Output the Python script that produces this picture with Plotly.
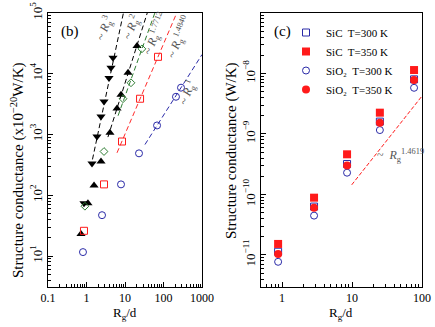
import plotly.graph_objects as go

# ---- panel (b): structure conductance (x1e-20 W/K) vs Rg/d ----
dn_tri_x = [0.86, 1.39, 1.87, 2.38, 2.85, 3.84, 4.33, 4.88]
dn_tri_y = [74, 333, 930, 1970, 3500, 8500, 12600, 18300]

up_tri_x = [0.72, 1.09, 1.57, 2.38, 4.07, 6.2, 7.87, 12.0, 20.5]
up_tri_y = [23, 74, 145, 360, 1070, 2680, 4530, 10400, 28700]

diam_x = [0.91, 2.85, 8.87, 14.3, 27.5]
diam_y = [66, 525, 3880, 7100, 25700]

sq_x = [0.86, 2.85, 8.36, 24.6, 72]
sq_y = [26, 151, 767, 3880, 19000]

circ_x = [0.81, 2.53, 7.87, 23.1, 68, 211, 285]
circ_y = [11.6, 47, 151, 490, 1410, 4180, 5900]

# power-law guide lines: y = A * x^k between x_start and x_end
fit_names = ["3", "2", "1.7712", "1.4840", "1"]
fit_A = [133, 70, 72, 33.3, 20.7]
fit_k = [3, 2, 1.7712, 1.4840, 1]
fit_x0 = [1.43, 3.6, 6.6, 6.2, 33]
fit_x1 = [12, 45, 70, 260, 1000]
fit_colors = ["black", "black", "#2e7d32", "#ff2a2a", "#2a2aa8"]

# ---- panel (c): structure conductance (W/K) vs Rg/d ----
rc_x = [0.88, 2.87, 8.5, 25, 77]
sic_300 = [1.13e-11, 6.3e-11, 3.19e-10, 1.6e-9, 8.0e-9]
sic_350 = [1.52e-11, 8.85e-11, 4.61e-10, 2.25e-9, 1.14e-8]
sio2_300 = [7.7e-12, 4.47e-11, 2.29e-10, 1.16e-9, 5.8e-9]
sio2_350 = [1.04e-11, 6.05e-11, 3.0e-10, 1.54e-9, 7.8e-9]

c_fit_A = 5.05e-12
c_fit_k = 1.4619
c_fit_x = [9.9, 100]

FONT = "Liberation Serif"
BLUE = "#2a2aa8"
RED = "#ff1a1a"

fig = go.Figure()

# panel (b) markers
fig.add_trace(go.Scatter(x=dn_tri_x, y=dn_tri_y, mode="markers", showlegend=False,
                         marker=dict(symbol="triangle-down", size=8, color="black")))
fig.add_trace(go.Scatter(x=up_tri_x, y=up_tri_y, mode="markers", showlegend=False,
                         marker=dict(symbol="triangle-up", size=8, color="black")))
fig.add_trace(go.Scatter(x=diam_x, y=diam_y, mode="markers", showlegend=False,
                         marker=dict(symbol="diamond-open", size=6, color="#2e7d32",
                                     line=dict(width=1))))
fig.add_trace(go.Scatter(x=sq_x, y=sq_y, mode="markers", showlegend=False,
                         marker=dict(symbol="square-open", size=7, color=RED,
                                     line=dict(width=1))))
fig.add_trace(go.Scatter(x=circ_x, y=circ_y, mode="markers", showlegend=False,
                         marker=dict(symbol="circle-open", size=7, color=BLUE,
                                     line=dict(width=1))))

for A, k, x0, x1, col in zip(fit_A, fit_k, fit_x0, fit_x1, fit_colors):
    xs = [x0, x1]
    fig.add_trace(go.Scatter(x=xs, y=[A * v ** k for v in xs], mode="lines",
                             showlegend=False,
                             line=dict(color=col, width=1, dash="5px,3px")))

# panel (c) markers
fig.add_trace(go.Scatter(x=rc_x, y=sic_300, mode="markers", name="SiC  T=300 K",
                         xaxis="x2", yaxis="y2",
                         marker=dict(symbol="square-open", size=7, color=BLUE,
                                     line=dict(width=1))))
fig.add_trace(go.Scatter(x=rc_x, y=sic_350, mode="markers", name="SiC  T=350 K",
                         xaxis="x2", yaxis="y2",
                         marker=dict(symbol="square", size=8, color=RED)))
fig.add_trace(go.Scatter(x=rc_x, y=sio2_300, mode="markers", name="SiO\u2082  T=300 K",
                         xaxis="x2", yaxis="y2",
                         marker=dict(symbol="circle-open", size=7, color=BLUE,
                                     line=dict(width=1))))
fig.add_trace(go.Scatter(x=rc_x, y=sio2_350, mode="markers", name="SiO\u2082  T=350 K",
                         xaxis="x2", yaxis="y2",
                         marker=dict(symbol="circle", size=8, color=RED)))
fig.add_trace(go.Scatter(x=c_fit_x, y=[c_fit_A * v ** c_fit_k for v in c_fit_x],
                         mode="lines", showlegend=False, xaxis="x2", yaxis="y2",
                         line=dict(color=RED, width=1, dash="4px,2px")))


def minor_vals(lo, hi):
    return [m * 10.0 ** e for e in range(lo, hi) for m in range(2, 10)]


def pw(e):
    return "10<sup>%s</sup>" % str(e).replace("-", "\u2212")


axis_common = dict(type="log", showline=True, linecolor="black", linewidth=1,
                   mirror=True, ticks="inside", ticklen=5, tickcolor="black",
                   showgrid=False, zeroline=False, tickmode="array", automargin=False,
                   tickfont=dict(family=FONT, size=13, color="black"))

W, H = 435, 327
ytop, ybot = 1 - 13 / H, 1 - 287 / H

fig.update_layout(
    width=W, height=H, margin=dict(l=0, r=0, t=0, b=0, autoexpand=False),
    paper_bgcolor="white", plot_bgcolor="white",
    font=dict(family=FONT, color="black"),
    xaxis=dict(axis_common, domain=[48 / W, 202 / W], range=[-1, 3],
               tickvals=[0.1, 1, 10, 100, 1000], ticktext=["0.1", "1", "10", "100", "1000"],
               minor=dict(ticks="inside", ticklen=3, tickcolor="black", tickvals=minor_vals(-1, 3))),
    yaxis=dict(axis_common, domain=[ybot, ytop], range=[0.49, 5],
               tickvals=[10, 100, 1e3, 1e4, 1e5], ticktext=[pw(e) for e in range(1, 6)],
               tickangle=-90,
               minor=dict(ticks="inside", ticklen=3, tickcolor="black", tickvals=minor_vals(0, 5))),
    xaxis2=dict(axis_common, domain=[261 / W, 422 / W], range=[-0.3, 2], anchor="y2",
                tickvals=[1, 10, 100], ticktext=["1", "10", "100"],
                minor=dict(ticks="inside", ticklen=3, tickcolor="black", tickvals=minor_vals(-1, 2))),
    yaxis2=dict(axis_common, domain=[ybot, ytop], range=[-11.53, -7], anchor="x2",
                tickvals=[1e-11, 1e-10, 1e-9, 1e-8, 1e-7], ticktext=[pw(e) for e in range(-11, -6)],
                tickangle=-90,
                minor=dict(ticks="inside", ticklen=3, tickcolor="black", tickvals=minor_vals(-12, -7))),
    legend=dict(x=286 / W, y=1 - 18 / H, xanchor="left", yanchor="top",
                bgcolor="rgba(0,0,0,0)", font=dict(family=FONT, size=11, color="black"),
                tracegroupgap=0, itemwidth=30),
)
fig.update_xaxes(tickfont_size=12)

ann = []
# panel labels
ann.append(dict(x=70 / W, y=1 - 31 / H, text="(b)", font=dict(size=15)))
ann.append(dict(x=282 / W, y=1 - 31 / H, text="(c)", font=dict(size=15)))
# axis titles
ann.append(dict(x=18 / W, y=1 - 170 / H, text="Structure conductance (x10<sup>\u221220</sup>W/K)",
                textangle=-90, font=dict(size=15)))
ann.append(dict(x=231 / W, y=1 - 150 / H, text="Structure conductance (W/K)",
                textangle=-90, font=dict(size=15)))
ann.append(dict(x=125 / W, y=1 - 313 / H, text="R<sub>g</sub>/d", font=dict(size=13)))
ann.append(dict(x=341 / W, y=1 - 313 / H, text="R<sub>g</sub>/d", font=dict(size=13)))
# slope labels
slope_pos = [(105, 29), (132, 28), (156, 34), (179, 37), (187, 93)]
for (px, py), name in zip(slope_pos, fit_names):
    ann.append(dict(x=px / W, y=1 - py / H, text="~ <i>R</i><sub>g</sub><sup>%s</sup>" % name,
                    textangle=-68, font=dict(size=12, color="#555555")))
ann.append(dict(x=400 / W, y=1 - 155 / H, text="~  <i>R</i><sub>g</sub><sup>1.4619</sup>",
                font=dict(size=12, color="#555555")))

for a in ann:
    a.update(xref="paper", yref="paper", showarrow=False,
             xanchor="center", yanchor="middle")
    a["font"] = dict(dict(family=FONT, color="black"), **a["font"])
fig.update_layout(annotations=ann)

# drop the default page margin so the figure sits at the window origin
fig.write_html("out.html", config={"displayModeBar": False},
               post_script="document.body.style.margin='0';document.body.style.overflow='hidden';")
